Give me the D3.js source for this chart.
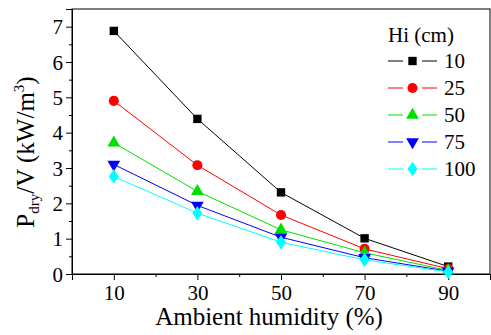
<!DOCTYPE html>
<html>
<head>
<meta charset="utf-8">
<script src="https://cdn.jsdelivr.net/npm/d3@7"></script>
</head>
<body style="margin:0">
<script>
// data
const humidity = [10, 30, 50, 70, 90];
const hiLabels = ["10", "25", "50", "75", "100"];
const colors = ["#000000", "#ff0000", "#00e000", "#0000ff", "#00ffff"];
const symbols = ["square", "circle", "triangle", "triangleDown", "diamond"];
const h10  = [6.88, 4.39, 2.31, 1.01, 0.21];
const h25  = [4.90, 3.08, 1.67, 0.71, 0.15];
const h50  = [3.71, 2.34, 1.25, 0.60, 0.10];
const h75  = [3.10, 1.94, 1.04, 0.46, 0.08];
const h100 = [2.76, 1.72, 0.90, 0.40, 0.06];
const series = [h10, h25, h50, h75, h100];
const xTicks = [10, 30, 50, 70, 90];
const yTicks = [0, 1, 2, 3, 4, 5, 6, 7];

const margin = {top: 9, right: 1, bottom: 61, left: 72},
      width = 491 - margin.left - margin.right,
      height = 335 - margin.top - margin.bottom;

// every text gets the serif face through its own style attribute
const font = size => `font-family: 'Liberation Serif', serif; font-size: ${size}px`;

const root = d3.select("body")
  .append("svg")
    .attr("width", 491)
    .attr("height", 335);
const svg = root.append("g")
    .attr("transform", `translate(${margin.left},${margin.top})`);

const x = d3.scaleLinear().domain([0, 100]).range([0, width]);
const y = d3.scaleLinear().domain([0, 7.5]).range([height, 0]);

// frame
svg.append("rect")
  .attr("width", width).attr("height", height)
  .attr("fill", "none").attr("stroke", "#000").attr("stroke-width", 1);

// x axis: major + minor ticks
const xAxis = svg.append("g")
  .attr("transform", `translate(0,${height})`)
  .call(d3.axisBottom(x).tickValues(xTicks).tickSize(6).tickPadding(4));
svg.append("g")
  .attr("transform", `translate(0,${height})`)
  .call(d3.axisBottom(x).tickValues([20, 40, 60, 80]).tickSize(3).tickFormat(""))
  .select(".domain").remove();

const yAxis = svg.append("g")
  .call(d3.axisLeft(y).tickValues(yTicks).tickSize(6).tickPadding(3));
svg.append("g")
  .call(d3.axisLeft(y).tickValues(d3.range(0.5, 7.5, 1)).tickSize(3).tickFormat(""))
  .select(".domain").remove();

svg.selectAll("g").attr("font-family", null).attr("font-size", null);
svg.selectAll(".tick text").attr("style", font(21)).attr("fill", "#000");
xAxis.selectAll(".tick text").attr("dy", null).attr("y", 26);
yAxis.selectAll(".tick text").attr("dy", "0.34em");
svg.selectAll(".domain, .tick line").attr("stroke", "#000");

// lines and markers
const line = d3.line().x((d, i) => x(humidity[i])).y(d => y(d));
const symbolType = {
  square: d3.symbolSquare, circle: d3.symbolCircle, triangle: d3.symbolTriangle,
  triangleDown: d3.symbolTriangle, diamond: d3.symbolDiamond
};
const symbolSize = {square: 70, circle: 80, triangle: 70, triangleDown: 70, diamond: 60};
const symbolXf = s => (symbols[s] === "triangleDown" ? " rotate(180)" : "") +
                      (symbols[s] === "diamond" ? " scale(1.2,1)" : "");

series.forEach((vals, s) => {
  svg.append("path")
    .datum(vals)
    .attr("d", line)
    .attr("fill", "none")
    .attr("stroke", colors[s])
    .attr("stroke-width", 1);
  svg.append("g").selectAll("path")
    .data(vals)
    .join("path")
      .attr("d", d3.symbol().type(symbolType[symbols[s]]).size(symbolSize[symbols[s]]))
      .attr("transform", (d, i) => `translate(${x(humidity[i])},${y(d)})` + symbolXf(s))
      .attr("fill", colors[s]);
});

// legend
const legend = svg.append("g").attr("transform", `translate(${388 - margin.left},0)`);
legend.append("text")
  .attr("x", 0).attr("y", 42 - margin.top)
  .attr("style", font(21))
  .text("Hi (cm)");
hiLabels.forEach((lab, s) => {
  const ly = 61 + s * 27 - margin.top;
  legend.append("line")
    .attr("x1", 0).attr("x2", 49).attr("y1", ly).attr("y2", ly)
    .attr("stroke", colors[s]).attr("stroke-width", 1);
  legend.append("rect")
    .attr("x", 15).attr("y", ly - 4).attr("width", 19).attr("height", 8).attr("fill", "#fff");
  legend.append("path")
    .attr("d", d3.symbol().type(symbolType[symbols[s]]).size(symbolSize[symbols[s]]))
    .attr("transform", `translate(24.5,${ly})` + symbolXf(s))
    .attr("fill", colors[s]);
  legend.append("text")
    .attr("x", 56).attr("y", ly + 7)
    .attr("style", font(21))
    .text(lab);
});

// axis titles
svg.append("text")
  .attr("x", 269 - margin.left).attr("y", 325 - margin.top)
  .attr("text-anchor", "middle")
  .attr("style", font(25))
  .text("Ambient humidity (%)");

const yTitle = svg.append("text")
  .attr("transform", `translate(${34 - margin.left},${152 - margin.top}) rotate(-90)`)
  .attr("text-anchor", "middle")
  .attr("style", font(25));
yTitle.append("tspan").text("P");
yTitle.append("tspan").attr("dy", 5).attr("style", "font-size: 15px").text("dry");
yTitle.append("tspan").attr("dy", -5).text("/V (kW/m");
yTitle.append("tspan").attr("dy", -10).attr("style", "font-size: 15px").text("3");
yTitle.append("tspan").attr("dy", 10).text(")");
</script>
</body>
</html>
